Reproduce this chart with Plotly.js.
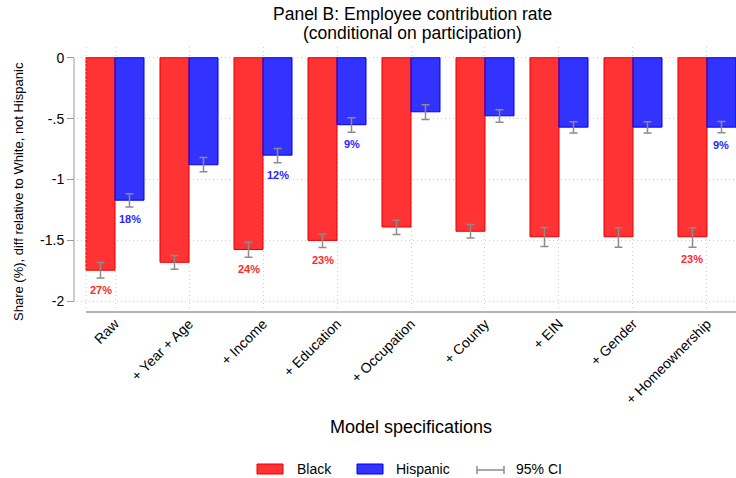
<!DOCTYPE html>
<html>
<head>
<meta charset="utf-8">
<script src="https://cdn.plot.ly/plotly-3.0.1.min.js"></script>
<style>html,body{margin:0;padding:0;background:#fff;}#chart{width:736px;height:478px;}</style>
</head>
<body>
<div id="chart"></div>
<script>
const categories = ['Raw','+ Year + Age','+ Income','+ Education','+ Occupation','+ County','+ EIN','+ Gender','+ Homeownership'];
const black   = [-1.745, -1.680, -1.575, -1.500, -1.390, -1.425, -1.470, -1.470, -1.470];
const blackLo = [-1.808, -1.737, -1.638, -1.559, -1.452, -1.480, -1.550, -1.556, -1.556];
const blackHi = [-1.682, -1.625, -1.515, -1.447, -1.334, -1.370, -1.394, -1.397, -1.397];
const hisp    = [-1.170, -0.879, -0.800, -0.550, -0.444, -0.477, -0.570, -0.570, -0.570];
const hispLo  = [-1.225, -0.937, -0.863, -0.613, -0.507, -0.529, -0.619, -0.619, -0.616];
const hispHi  = [-1.118, -0.819, -0.745, -0.493, -0.386, -0.427, -0.526, -0.526, -0.523];
const blackLabels = ['27%','','24%','23%','','','','','23%'];
const hispLabels  = ['18%','','12%','9%','','','','','9%'];
const yTickVals = [0, -0.5, -1, -1.5, -2];
const yTickText = ['0', '-.5', '-1', '-1.5', '-2'];
const titleLines = ['Panel B: Employee contribution rate', '(conditional on participation)'];

const FONT = 'Liberation Sans, Arial, Helvetica, sans-serif';
const RED = 'rgb(255,51,51)', RED_LINE = 'rgb(235,0,0)';
const BLUE = 'rgb(51,51,255)', BLUE_LINE = 'rgb(0,0,235)';
const CI_COLOR = '#8c8c8c';
const GRID = '#cfcfcf';
const GRID_DASH = '1px,3px';

const xs = categories.map((c, i) => i);

const traces = [
  {
    type: 'bar', name: 'Black', x: xs, y: black,
    marker: {color: RED, line: {color: RED_LINE, width: 1}},
    error_y: {type: 'data', symmetric: false,
      array: blackHi.map((v, i) => v - black[i]),
      arrayminus: blackLo.map((v, i) => black[i] - v),
      color: CI_COLOR, thickness: 1.5, width: 4},
    showlegend: false, hoverinfo: 'skip'
  },
  {
    type: 'bar', name: 'Hispanic', x: xs, y: hisp,
    marker: {color: BLUE, line: {color: BLUE_LINE, width: 1}},
    error_y: {type: 'data', symmetric: false,
      array: hispHi.map((v, i) => v - hisp[i]),
      arrayminus: hispLo.map((v, i) => hisp[i] - v),
      color: CI_COLOR, thickness: 1.5, width: 4},
    showlegend: false, hoverinfo: 'skip'
  }
];

const annotations = [];
blackLabels.forEach((t, i) => {
  if (t) annotations.push({x: i, y: blackLo[i], xref: 'x', yref: 'y', xshift: -14.5, yshift: -12,
    yanchor: 'middle', xanchor: 'center', showarrow: false, text: '<b>' + t + '</b>',
    font: {family: FONT, size: 11, color: 'rgb(255,40,40)'}});
});
hispLabels.forEach((t, i) => {
  if (t) annotations.push({x: i, y: hispLo[i], xref: 'x', yref: 'y', xshift: 14.5, yshift: -12,
    yanchor: 'middle', xanchor: 'center', showarrow: false, text: '<b>' + t + '</b>',
    font: {family: FONT, size: 11, color: 'rgb(40,40,255)'}});
});

// helpers for pixel -> paper (layout-only positions)
const L = 74, T = 47, B = 166, W = 736, H = 478;
const pw = W - L, ph = H - T - B;
const px = p => (p - L) / pw;
const py = p => (H - B - p) / ph;

// title lines
annotations.push({xref: 'paper', yref: 'paper', x: px(412), y: py(14.5), xanchor: 'center', yanchor: 'middle',
  showarrow: false, text: titleLines[0], font: {family: FONT, size: 17.5, color: '#000'}});
annotations.push({xref: 'paper', yref: 'paper', x: px(412), y: py(33.5), xanchor: 'center', yanchor: 'middle',
  showarrow: false, text: titleLines[1], font: {family: FONT, size: 17.5, color: '#000'}});

// axis titles
annotations.push({xref: 'paper', yref: 'paper', x: px(18), y: py(192), textangle: -90,
  showarrow: false, xanchor: 'center', yanchor: 'middle',
  text: 'Share (%), diff relative to White, not Hispanic', font: {family: FONT, size: 13, color: '#000'}});
annotations.push({xref: 'paper', yref: 'paper', x: px(411), y: py(427),
  showarrow: false, xanchor: 'center', yanchor: 'middle',
  text: 'Model specifications', font: {family: FONT, size: 18, color: '#000'}});

// legend labels
const legY = py(469);
[['Black', 295], ['Hispanic', 394], ['95% CI', 514]].forEach(([t, x]) => {
  annotations.push({xref: 'paper', yref: 'paper', x: px(x), y: legY, xanchor: 'left', yanchor: 'middle',
    showarrow: false, text: t, font: {family: FONT, size: 14, color: '#000'}});
});

const shapes = [
  {type: 'line', xref: 'paper', yref: 'y', x0: 0, x1: 0, y0: yTickVals[0], y1: yTickVals[yTickVals.length - 1],
    line: {color: '#9a9a9a', width: 1}},
  {type: 'line', xref: 'paper', yref: 'paper', x0: px(86), x1: 1, y0: 0, y1: 0,
    line: {color: '#b4b4b4', width: 2}},
  {type: 'line', xref: 'paper', yref: 'paper', x0: px(86), x1: px(86), y0: 0, y1: 1,
    line: {color: GRID, width: 1, dash: GRID_DASH}},
  {type: 'rect', xref: 'paper', yref: 'paper', x0: px(257), x1: px(283), y0: py(464), y1: py(474),
    fillcolor: RED, line: {color: RED_LINE, width: 1}},
  {type: 'rect', xref: 'paper', yref: 'paper', x0: px(357), x1: px(383), y0: py(464), y1: py(474),
    fillcolor: BLUE, line: {color: BLUE_LINE, width: 1}},
  {type: 'line', xref: 'paper', yref: 'paper', x0: px(477), x1: px(504), y0: py(470), y1: py(470),
    line: {color: CI_COLOR, width: 1.5}},
  {type: 'line', xref: 'paper', yref: 'paper', x0: px(477), x1: px(477), y0: py(466), y1: py(474),
    line: {color: CI_COLOR, width: 1.5}},
  {type: 'line', xref: 'paper', yref: 'paper', x0: px(504), x1: px(504), y0: py(466), y1: py(474),
    line: {color: CI_COLOR, width: 1.5}}
];

const layout = {
  width: W, height: H,
  margin: {l: L, r: 0, t: T, b: B, pad: 0},
  paper_bgcolor: '#fff', plot_bgcolor: '#fff',
  font: {family: FONT, color: '#000'},
  barmode: 'group', bargap: 0.216, bargroupgap: 0,
  showlegend: false,
  xaxis: {
    domain: [3 / pw, 1],
    range: [-0.5135, 8.392],
    tickvals: xs, ticktext: categories, tickangle: -45,
    tickfont: {family: FONT, size: 14, color: '#000'},
    showgrid: true, gridcolor: GRID, griddash: GRID_DASH, gridwidth: 1,
    showline: false, zeroline: false, ticks: ''
  },
  yaxis: {
    anchor: 'free', position: 0,
    range: [-2.088, 0.088],
    tickvals: yTickVals, ticktext: yTickText,
    tickfont: {family: FONT, size: 14, color: '#000'},
    ticks: 'outside', ticklen: 7, tickcolor: '#9a9a9a', tickwidth: 1,
    showgrid: true, gridcolor: GRID, griddash: GRID_DASH, gridwidth: 1,
    showline: false, zeroline: false
  },
  annotations: annotations,
  shapes: shapes
};

Plotly.newPlot('chart', traces, layout, {staticPlot: true, displayModeBar: false});
</script>
</body>
</html>
